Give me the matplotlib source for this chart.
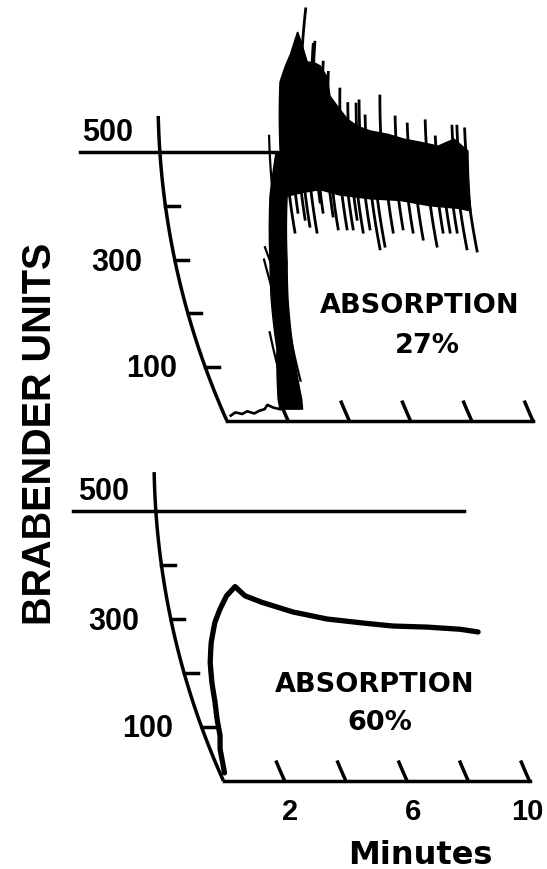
import numpy as np
import matplotlib
matplotlib.use("Agg")
import matplotlib.pyplot as plt
from matplotlib.transforms import Transform, offset_copy
from matplotlib.path import Path
from matplotlib import font_manager

# ---------------------------------------------------------------- data
y_ticks = [100, 200, 300, 400]
y_labeled = [100, 300, 500]
x_ticks = [2, 4, 6, 8, 10]
x_labeled = [2, 6, 10]
ref_line_value = 500

# 27 % absorption (dense oscillating trace: envelopes + spikes)
flat27_t = [0.20, 0.40, 0.60, 0.80, 1.00, 1.20, 1.40, 1.55, 1.70, 1.90]
flat27_v = [10, 16, 13, 18, 14, 19, 22, 30, 25, 22]
rise27_v = [22, 41, 134, 227, 296, 418, 500]
rise27_t_left = [1.90, 1.98, 2.55, 2.85, 3.10, 3.46, 3.80]
rise27_t_right = [2.64, 2.75, 3.08, 3.40, 3.66, 4.02, 4.10]
upper27_t = [3.93, 3.98, 4.14, 4.29, 4.47, 4.62, 4.85, 5.04, 5.28, 5.52,
             5.62, 5.85, 6.18, 6.50, 6.92, 7.48, 8.00, 8.55, 9.11, 9.64,
             10.07]
upper27_v = [500, 630, 660, 682, 723, 704, 667, 667, 660, 639,
             604, 586, 561, 548, 539, 533, 524, 518, 511, 524,
             502]
lower27_t = [9.96, 9.61, 8.65, 7.69, 6.72, 5.75, 5.12, 4.56]
lower27_v = [390, 395, 400, 410, 413, 420, 430, 425]
spike_up27_t = [4.66, 5.01, 5.06, 5.37, 5.55, 5.94, 6.20, 6.47, 6.57, 6.76,
                7.25, 7.74, 8.13, 8.72, 9.03, 9.59, 9.75, 10.00]
spike_up27_v = [766, 700, 704, 667, 648, 617, 590, 589, 595, 567,
                604, 565, 552, 558, 528, 548, 548, 543]
spike_dn27_t = [4.10, 4.30, 4.50, 4.62, 4.82, 5.07, 5.12, 5.43, 5.53, 5.82,
                6.02, 6.20, 6.33, 6.57, 6.78, 6.96, 7.31, 7.65, 7.96, 8.25,
                8.66, 8.94, 9.17, 9.40, 9.62, 9.94]
spike_dn27_v = [351, 388, 375, 362, 351, 407, 388, 381, 357, 357,
                357, 375, 351, 357, 320, 325, 351, 357, 351, 338,
                325, 351, 351, 351, 320, 316]
stroke27_t0 = [2.49, 2.92, 3.03, 3.60, 3.20]
stroke27_v0 = [165, 300, 323, 530, 190]
stroke27_t1 = [2.30, 3.00, 3.27, 3.55, 2.95]
stroke27_v1 = [60, 200, 243, 400, 75]

# 60 % absorption
curve60_t = [0.15, 0.21, 0.33, 0.50, 0.60, 0.72, 0.82, 0.95, 1.15, 1.42,
             1.67, 1.97, 2.30, 2.57, 3.08, 4.04, 5.10, 6.16, 7.21, 8.32,
             9.38, 9.95]
curve60_v = [15, 28, 59, 84, 115, 146, 183, 220, 257, 294,
             318, 343, 360, 343, 331, 313, 300, 293, 287, 285,
             281, 276]

# ---------------------------------------------------------------- fonts
_names = {f.name for f in font_manager.fontManager.ttflist}
NARROW = "Liberation Sans Narrow" if "Liberation Sans Narrow" in _names else None
NUMF = "Liberation Sans" if "Liberation Sans" in _names else "DejaVu Sans"

# ---------------------------------------------------------------- geometry
W, H = 547, 870
R_PX = 790.0      # radius of the recorder pen arc (pixels)
V_C = 600.0       # BU level of the arc centre


class ArcTransform(Transform):
    """Farinograph chart: the pen moves on an arc, so a constant time
    traces a curve; (t, BU) -> (chart x, BU)."""
    input_dims = 2
    output_dims = 2
    is_separable = False
    has_inverse = False

    def __init__(self, k, ppm):
        super().__init__()
        self.k = k
        self.ppm = ppm
        self.base = np.sqrt(R_PX ** 2 - (V_C * k) ** 2)

    def transform_non_affine(self, values):
        a = np.asarray(values, float).reshape(-1, 2)
        d = (V_C - a[:, 1]) * self.k
        off = (self.base - np.sqrt(R_PX ** 2 - d ** 2)) / self.ppm
        return np.column_stack([a[:, 0] + off, a[:, 1]])


def dense(ts, vs, steps=15):
    p = Path(np.column_stack([ts, vs])).interpolated(steps)
    return p.vertices[:, 0], p.vertices[:, 1]


fig = plt.figure(figsize=(W / 100, H / 100), dpi=100)
fig.patch.set_facecolor("white")
LW = 2.5
INK = "black"


def make_panel(px0, py0, k, ppm, top_py, bot_py):
    ax = fig.add_axes([0, 1 - bot_py / H, 1, (bot_py - top_py) / H])
    ax.set_xlim((0 - px0) / ppm, (W - px0) / ppm)
    ax.set_ylim((py0 - bot_py) / k, (py0 - top_py) / k)
    ax.axis("off")
    return ax, ArcTransform(k, ppm) + ax.transData


def frame(ax, tr, v_top, line_x0, line_x1, show_xlabels):
    vv = np.linspace(0, v_top, 120)
    ax.plot(np.zeros_like(vv), vv, color=INK, lw=LW, transform=tr,
            solid_capstyle="butt")
    ax.plot([0, x_ticks[-1]], [0, 0], color=INK, lw=LW, transform=tr,
            solid_capstyle="projecting")
    for v in y_ticks:
        ax.plot([0, 0.44], [v, v], color=INK, lw=LW, transform=tr)
    for t in x_ticks:
        vt = np.linspace(0, 35, 20)
        ax.plot(np.full_like(vt, t), vt, color=INK, lw=LW, transform=tr)
    ax.plot([line_x0, line_x1], [ref_line_value, ref_line_value],
            color=INK, lw=LW)
    gaps = {500: (-27, 12), 300: (-32, -10), 100: (-28, -9)}
    for v in y_labeled:
        dx, dy = gaps[v]
        ax.text(0, v, str(v), fontsize=22, fontweight="bold", family=NUMF,
                ha="right", va="baseline", color=INK,
                transform=offset_copy(tr, fig=fig, x=dx, y=dy, units="dots"))
    if show_xlabels:
        xoff = {2: 5, 6: 6, 10: -2}
        for t in x_labeled:
            ax.text(t, 0, str(t), fontsize=21, fontweight="bold", family=NUMF,
                    ha="center", va="baseline", color=INK,
                    transform=offset_copy(tr, fig=fig, x=xoff[t], y=-38,
                                          units="dots"))


# ---------------- top panel (27 %)
axT, trT = make_panel(227, 422, 0.538, 30.6, 0, 435)
frame(axT, trT, 567, (80 - 227) / 30.6, (285 - 227) / 30.6, False)

axT.plot(flat27_t, flat27_v, color=INK, lw=1.9, transform=trT)
out_t = (list(rise27_t_left) + list(upper27_t) + list(lower27_t)
         + list(rise27_t_right[::-1][1:]))
out_v = (list(rise27_v) + list(upper27_v) + list(lower27_v)
         + list(rise27_v[::-1][1:]))
bt, bv = dense(out_t + [out_t[0]], out_v + [out_v[0]], 10)
axT.fill(bt, bv, color=INK, lw=1.0, transform=trT)
for t, v in zip(spike_up27_t, spike_up27_v):
    vs = np.linspace(470, v, 25)
    axT.plot(np.full_like(vs, t), vs, color=INK, lw=2.0, transform=trT)
for t, v in zip(spike_dn27_t, spike_dn27_v):
    vs = np.linspace(450, v, 25)
    axT.plot(np.full_like(vs, t), vs, color=INK, lw=2.0, transform=trT)
for t0, v0, t1, v1 in zip(stroke27_t0, stroke27_v0, stroke27_t1, stroke27_v1):
    st, sv = dense([t0, t1], [v0, v1], 25)
    axT.plot(st, sv, color=INK, lw=1.6, transform=trT)

# ---------------- bottom panel (60 %)
axB, trB = make_panel(223.5, 782, 0.54, 30.6, 435, 870)
frame(axB, trB, 572, (73 - 223.5) / 30.6, (464 - 223.5) / 30.6, True)
ct, cv = dense(curve60_t, curve60_v, 10)
axB.plot(ct, cv, color=INK, lw=3.8, transform=trB,
         solid_joinstyle="round", solid_capstyle="round")

# ---------------- texts
def ftext(px, py, s, **kw):
    fig.text(px / W, 1 - py / H, s, color=INK, **kw)


ftext(420, 313, "ABSORPTION", fontsize=19.5, fontweight="bold",
      ha="center", va="baseline")
ftext(427, 353, "27%", fontsize=19.5, fontweight="bold",
      ha="center", va="baseline")
ftext(375, 692, "ABSORPTION", fontsize=19.5, fontweight="bold",
      ha="center", va="baseline")
ftext(380, 730, "60%", fontsize=19.5, fontweight="bold",
      ha="center", va="baseline")
ftext(420, 864, "Minutes", fontsize=23, fontweight="bold",
      family="DejaVu Sans", ha="center", va="baseline")
if NARROW:
    ftext(42, 434, "BRABENDER UNITS", fontsize=34, fontweight="bold",
          family=NARROW, rotation=90, ha="center", va="center")
else:
    ftext(40, 434, "BRABENDER UNITS", fontsize=28.5, fontweight="bold",
          family=NUMF, rotation=90, ha="center", va="center")

fig.savefig("out.png", dpi=100, facecolor="white")
